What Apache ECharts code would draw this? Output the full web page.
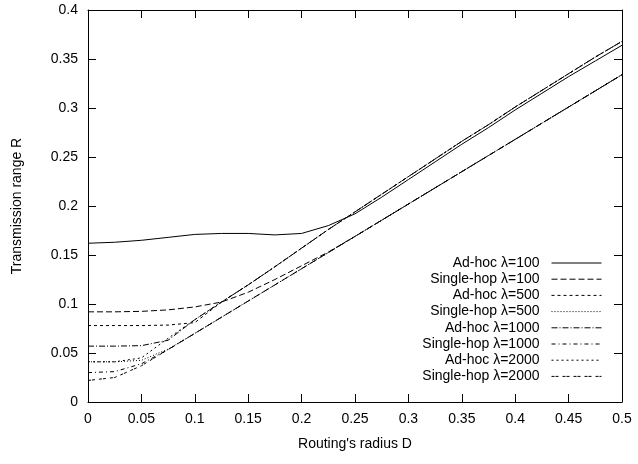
<!DOCTYPE html>
<html>
<head>
<meta charset="utf-8">
<script src="https://cdn.jsdelivr.net/npm/echarts@6/dist/echarts.min.js"></script>
<style>
html,body{margin:0;padding:0;background:#fff;}
#c{width:638px;height:464px;}
</style>
</head>
<body>
<div id="c"></div>
<script>
// Routing's radius D (x samples)
const D = [0, 0.025, 0.05, 0.075, 0.1, 0.125, 0.15, 0.175, 0.2, 0.225, 0.25, 0.275, 0.3, 0.325, 0.35, 0.375, 0.4, 0.425, 0.45, 0.475, 0.5];

const adhoc100   = [0.162, 0.163, 0.165, 0.168, 0.171, 0.172, 0.172, 0.1705, 0.172, 0.180, 0.192, 0.209, 0.227, 0.245, 0.263, 0.280, 0.298, 0.315, 0.332, 0.348, 0.364];
const single100  = [0.092, 0.092, 0.0925, 0.094, 0.097, 0.102, 0.112, 0.125, 0.139, 0.153, 0.169, 0.1855, 0.202, 0.2185, 0.235, 0.2515, 0.268, 0.2845, 0.301, 0.3175, 0.334];
const adhoc500   = [0.078, 0.078, 0.078, 0.0785, 0.081, 0.102, 0.1195, 0.138, 0.157, 0.176, 0.194, 0.212, 0.230, 0.248, 0.266, 0.283, 0.301, 0.318, 0.335, 0.352, 0.368];
const single500  = [0.041, 0.041, 0.0425, 0.054, 0.070, 0.0865, 0.103, 0.1195, 0.136, 0.1525, 0.169, 0.1855, 0.202, 0.2185, 0.235, 0.2515, 0.268, 0.2845, 0.301, 0.3175, 0.334];
const adhoc1000  = [0.057, 0.057, 0.0575, 0.063, 0.084, 0.102, 0.1195, 0.138, 0.157, 0.176, 0.194, 0.212, 0.230, 0.248, 0.266, 0.283, 0.301, 0.318, 0.335, 0.352, 0.368];
const single1000 = [0.030, 0.031, 0.039, 0.0535, 0.070, 0.0865, 0.103, 0.1195, 0.136, 0.1525, 0.169, 0.1855, 0.202, 0.2185, 0.235, 0.2515, 0.268, 0.2845, 0.301, 0.3175, 0.334];
const adhoc2000  = [0.041, 0.041, 0.045, 0.065, 0.084, 0.102, 0.1195, 0.138, 0.157, 0.176, 0.194, 0.212, 0.230, 0.248, 0.266, 0.283, 0.301, 0.318, 0.335, 0.352, 0.368];
const single2000 = [0.022, 0.025, 0.037, 0.0535, 0.070, 0.0865, 0.103, 0.1195, 0.136, 0.1525, 0.169, 0.1855, 0.202, 0.2185, 0.235, 0.2515, 0.268, 0.2845, 0.301, 0.3175, 0.334];

const seriesNames = ['Ad-hoc λ=100', 'Single-hop λ=100', 'Ad-hoc λ=500', 'Single-hop λ=500',
                     'Ad-hoc λ=1000', 'Single-hop λ=1000', 'Ad-hoc λ=2000', 'Single-hop λ=2000'];
const seriesValues = [adhoc100, single100, adhoc500, single500, adhoc1000, single1000, adhoc2000, single2000];
const dashTypes = ['solid', [6, 3], [3, 3], [1, 2], [6, 2, 1, 2], [4, 3, 1, 3], [2, 3], [3, 1, 3, 4]];
const xTitle = "Routing's radius D";
const yTitle = 'Transmission range R';

const FONT = 'Liberation Sans, Arial, Helvetica, sans-serif';
const chart = echarts.init(document.getElementById('c'));

function ticksIn() {
  return {show: true, inside: true, length: 8, lineStyle: {color: '#000', width: 1}};
}
function lineOf() {
  return {show: true, onZero: false, lineStyle: {color: '#000', width: 1}};
}
function labelOf(visible) {
  const l = {show: true, color: '#000', fontSize: 14, fontFamily: FONT, margin: 10};
  if (!visible) l.formatter = () => '';
  return l;
}

// The last series is bound to the mirrored (top/right) axes, which share the same scale.
const lineSeries = seriesNames.map((n, i) => ({
  name: n,
  type: 'line',
  xAxisIndex: i === seriesNames.length - 1 ? 1 : 0,
  yAxisIndex: i === seriesNames.length - 1 ? 1 : 0,
  symbol: 'none',
  showSymbol: false,
  smooth: false,
  color: '#000',
  lineStyle: {color: '#000', width: 1, type: dashTypes[i]},
  data: D.map((d, j) => [d, seriesValues[i][j]])
}));

chart.setOption({
  animation: false,
  grid: {left: 88, right: 16, top: 10, bottom: 62},
  legend: {
    orient: 'vertical',
    right: 31,
    top: 251,
    align: 'right',
    itemWidth: 50,
    itemHeight: 14,
    itemGap: 2.2,
    itemStyle: {opacity: 0, borderWidth: 0},
    lineStyle: {width: 1},
    textStyle: {color: '#000', fontSize: 14, fontFamily: FONT, width: 150, align: 'right', padding: [0, 7, 0, 0]},
    data: seriesNames
  },
  graphic: [
    {type: 'text', x: 355, y: 444, silent: true,
     style: {text: xTitle, fill: '#000', fontSize: 14, fontFamily: FONT, align: 'center', verticalAlign: 'middle'}},
    {type: 'text', x: 17, y: 206, rotation: Math.PI / 2, silent: true,
     style: {text: yTitle, fill: '#000', fontSize: 14, fontFamily: FONT, align: 'center', verticalAlign: 'middle'}}
  ],
  xAxis: [
    {type: 'value', min: 0, max: 0.5, interval: 0.05, position: 'bottom',
     axisLine: lineOf(), axisTick: ticksIn(), splitLine: {show: false}, axisLabel: labelOf(true)},
    {type: 'value', min: 0, max: 0.5, interval: 0.05, position: 'top',
     axisLine: lineOf(), axisTick: ticksIn(), splitLine: {show: false}, axisLabel: labelOf(false)}
  ],
  yAxis: [
    {type: 'value', min: 0, max: 0.4, interval: 0.05, position: 'left',
     axisLine: lineOf(), axisTick: ticksIn(), splitLine: {show: false}, axisLabel: labelOf(true)},
    {type: 'value', min: 0, max: 0.4, interval: 0.05, position: 'right',
     axisLine: lineOf(), axisTick: ticksIn(), splitLine: {show: false}, axisLabel: labelOf(false)}
  ],
  series: lineSeries
});
</script>
</body>
</html>
